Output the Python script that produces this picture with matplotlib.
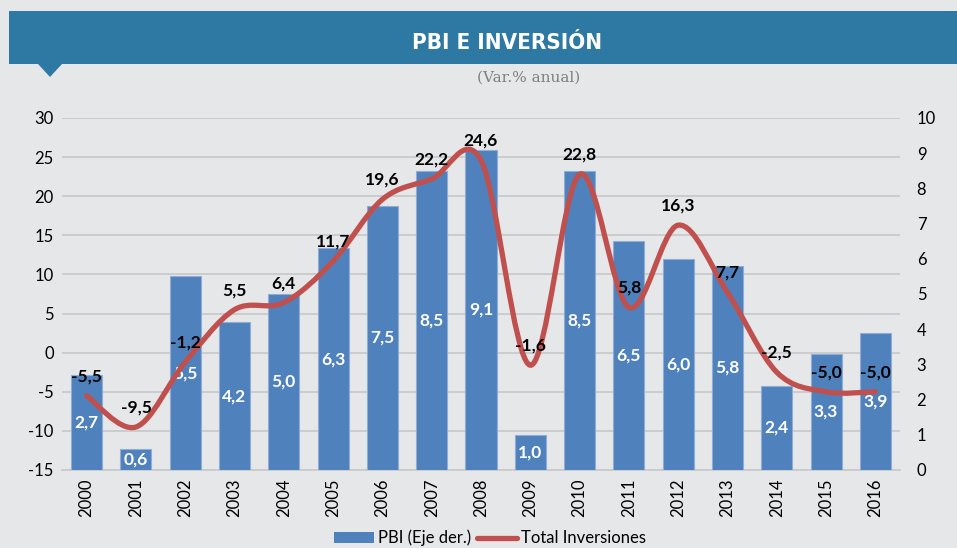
import matplotlib.pyplot as plt
from matplotlib.patches import Rectangle, Polygon, PathPatch
from matplotlib.path import Path
from matplotlib.lines import Line2D
from matplotlib.patches import Patch

# Data
years = ['2000', '2001', '2002', '2003', '2004', '2005', '2006', '2007', '2008',
         '2009', '2010', '2011', '2012', '2013', '2014', '2015', '2016']
pbi = [2.7, 0.6, 5.5, 4.2, 5.0, 6.3, 7.5, 8.5, 9.1, 1.0, 8.5, 6.5, 6.0, 5.8, 2.4, 3.3, 3.9]
inversion = [-5.5, -9.5, -1.2, 5.5, 6.4, 11.7, 19.6, 22.2, 24.6, -1.6, 22.8, 5.8, 16.3, 7.7, -2.5, -5.0, -5.0]

bg = '#e6e7e9'
blue = '#4f81bd'
red = '#c0504d'
teal = '#2e79a3'
grid_c = '#c9cacc'

plt.rcParams['font.family'] = ['Lato', 'DejaVu Sans']
plt.rcParams['axes.unicode_minus'] = False

fig = plt.figure(figsize=(9.57, 5.48), dpi=100, facecolor=bg)
W, H = 957, 548

# header band
fig.patches.append(Rectangle((9 / W, 1 - 64 / H), 1 - 9 / W, 53 / H, transform=fig.transFigure,
                             facecolor=teal, edgecolor='none'))
fig.patches.append(Polygon([(38 / W, 1 - 64 / H), (62 / W, 1 - 64 / H), (50 / W, 1 - 77 / H)],
                           closed=True, transform=fig.transFigure, facecolor=teal, edgecolor='none'))
fig.text(507 / W, 1 - 43 / H, 'PBI E INVERSIÓN', color='white', fontsize=16, fontweight='bold',
         family='DejaVu Sans', fontstretch='condensed', ha='center', va='center')
fig.text(529 / W, 1 - 78 / H, '(Var.% anual)', color='#7f7f7f', fontsize=11,
         family='DejaVu Serif', ha='center', va='center')

ax = fig.add_axes([62 / W, 1 - 470 / H, (900 - 62) / W, (470 - 118) / H])
ax.set_facecolor(bg)
ax2 = ax.twinx()

x = list(range(len(years)))

# bars on right axis
ax2.bar(x, pbi, width=0.63, color=blue, edgecolor='#8eaed6', linewidth=0.8, zorder=2)
for xi, v in zip(x, pbi):
    ax2.text(xi, v / 2, f'{v:.1f}'.replace('.', ','), color='white', fontsize=12.5,
             fontweight='bold', ha='center', va='center', zorder=3)
ax2.set_ylim(0, 10)
ax2.set_yticks(range(0, 11))

# smooth line on left axis (Bezier segments through the points)
ax.set_ylim(-15, 30)
ax.set_yticks(range(-15, 31, 5))
ax.set_xlim(-0.5, len(years) - 0.5)
verts = [(x[0], inversion[0])]
codes = [Path.MOVETO]
n = len(x)
for i in range(n - 1):
    p0 = (x[max(i - 1, 0)], inversion[max(i - 1, 0)])
    p1 = (x[i], inversion[i])
    p2 = (x[i + 1], inversion[i + 1])
    p3 = (x[min(i + 2, n - 1)], inversion[min(i + 2, n - 1)])
    c1 = (p1[0] + (p2[0] - p0[0]) / 6, p1[1] + (p2[1] - p0[1]) / 6)
    c2 = (p2[0] - (p3[0] - p1[0]) / 6, p2[1] - (p3[1] - p1[1]) / 6)
    verts += [c1, c2, p2]
    codes += [Path.CURVE4] * 3

ax.grid(axis='y', color=grid_c, linewidth=1.3, zorder=0)
ax.set_axisbelow(True)

# line above the bars: drawn on ax2 with the left-axis data transform
line_patch = PathPatch(Path(verts, codes), facecolor='none', edgecolor=red, linewidth=3.8,
                       capstyle='round', transform=ax.transData, zorder=4)
ax2.add_patch(line_patch)
for xi, v in zip(x, inversion):
    ax2.annotate(f'{v:.1f}'.replace('.', ','), xy=(xi, v), xycoords=ax.transData,
                 xytext=(0, 14), textcoords='offset points', ha='center', va='center',
                 fontsize=12.5, fontweight='bold', color='black', zorder=5)

ax.set_xticks(x)
ax.set_xticklabels(years, rotation=90, fontsize=12)
ax.tick_params(axis='both', length=0, labelsize=12, pad=6)
ax2.tick_params(axis='both', length=0, labelsize=12, pad=12)
for a in (ax, ax2):
    for s in a.spines.values():
        s.set_visible(False)
ax.spines['bottom'].set_visible(True)
ax.spines['bottom'].set_color(grid_c)
ax.spines['bottom'].set_linewidth(1.3)

handles = [Patch(facecolor=blue, edgecolor='none'),
           Line2D([0], [0], color=red, linewidth=3.8, solid_capstyle='round')]
fig.legend(handles, ['PBI (Eje der.)', 'Total Inversiones'], loc='center',
           bbox_to_anchor=(490 / W, 1 - 538 / H), ncol=2, frameon=False, fontsize=12,
           handlelength=2.4, handleheight=0.6, handletextpad=0.2, columnspacing=0.4)

plt.savefig('out.png', dpi=100, facecolor=bg)
